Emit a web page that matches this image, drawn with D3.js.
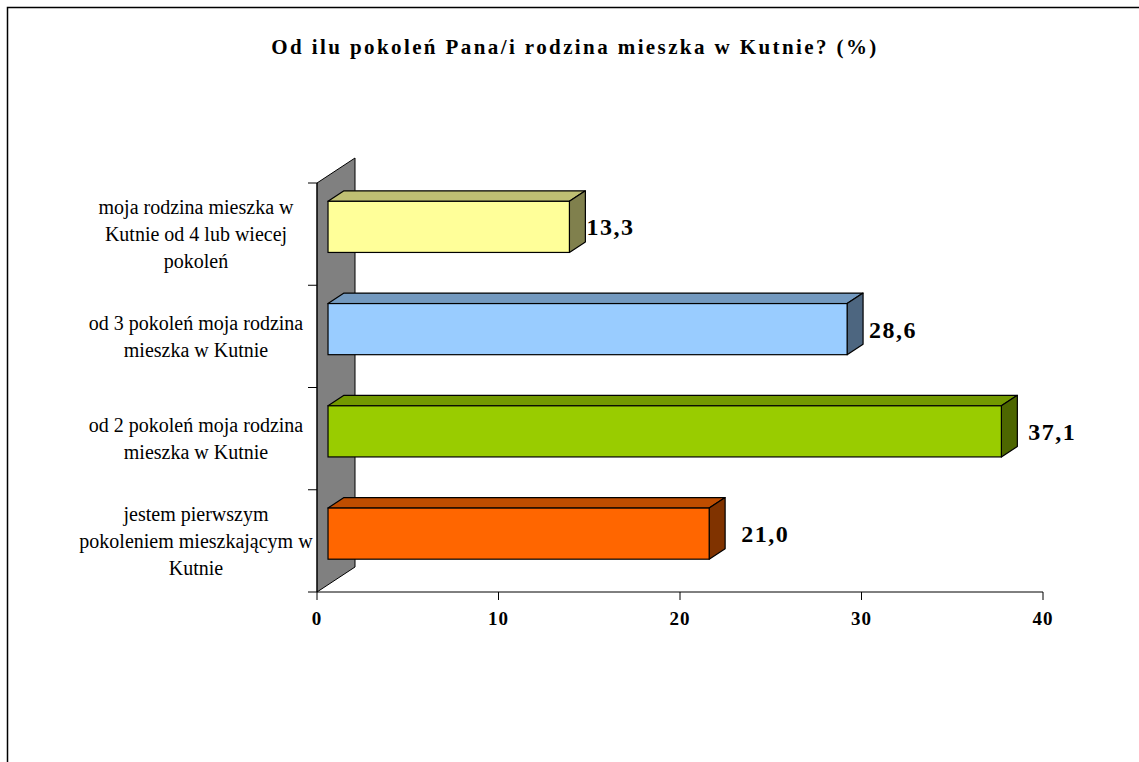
<!DOCTYPE html>
<html>
<head>
<meta charset="utf-8">
<script src="https://cdn.jsdelivr.net/npm/d3@7/dist/d3.min.js"></script>
<style>
  body { margin: 0; background: #fff; }
  svg { display: block; }
  text { font-family: "Liberation Serif", "Times New Roman", serif; fill: #000; }
</style>
</head>
<body>
<div id="chart"></div>
<script>
const WIDTH = 1139
const HEIGHT = 762

const title = 'Od ilu pokoleń Pana/i rodzina mieszka w Kutnie? (%)'
// top to bottom, as drawn
const categories = [
  ['moja rodzina mieszka w', 'Kutnie od 4 lub wiecej', 'pokoleń'],
  ['od 3 pokoleń moja rodzina', 'mieszka w Kutnie'],
  ['od 2 pokoleń moja rodzina', 'mieszka w Kutnie'],
  ['jestem pierwszym', 'pokoleniem mieszkającym w', 'Kutnie']
]
const values = [13.3, 28.6, 37.1, 21.0]
const colors = ['#ffff99', '#99ccff', '#99cc00', '#ff6600']
const xTicks = [0, 10, 20, 30, 40]

// plot frame (front plane) and 3d depth
const plot = { left: 317, right: 1043, top: 183, bottom: 592 }
const depth = { dx: 38, dy: -25 }
const barFront = 0.29
const barBack = 0.71

const svg = d3.select('#chart').append('svg')
  .attr('width', WIDTH)
  .attr('height', HEIGHT)

// outer frame, right and bottom edges run off the picture
svg.append('rect')
  .attr('x', 7.5).attr('y', 7.5)
  .attr('width', WIDTH + 20).attr('height', HEIGHT + 20)
  .attr('fill', 'none')
  .attr('stroke', '#000')
  .attr('stroke-width', 1.5)

svg.append('text')
  .attr('x', 575)
  .attr('y', 54)
  .attr('text-anchor', 'middle')
  .attr('font-size', 21)
  .attr('font-weight', 'bold')
  .attr('letter-spacing', 2.4)
  .text(title)

const x = d3.scaleLinear()
  .domain([0, 40])
  .range([plot.left, plot.right])

const y = d3.scaleBand()
  .domain(d3.range(categories.length))
  .range([plot.top, plot.bottom])
  .paddingInner(0.5)
  .paddingOuter(0.25)

const step = y.step()

// back wall
svg.append('polygon')
  .attr('points', [
    [plot.left, plot.bottom],
    [plot.left, plot.top],
    [plot.left + depth.dx, plot.top + depth.dy],
    [plot.left + depth.dx, plot.bottom + depth.dy]
  ].map(p => p.join(',')).join(' '))
  .attr('fill', '#808080')
  .attr('stroke', '#000')
  .attr('stroke-width', 1)

// category axis
svg.append('line')
  .attr('x1', plot.left).attr('x2', plot.left)
  .attr('y1', plot.top).attr('y2', plot.bottom)
  .attr('stroke', '#000')

const catTicks = d3.range(categories.length + 1).map(i => plot.top + i * step)
svg.selectAll('.ctick')
  .data(catTicks)
  .enter().append('line')
  .attr('x1', plot.left - 9).attr('x2', plot.left)
  .attr('y1', d => d).attr('y2', d => d)
  .attr('stroke', '#000')

// value axis
svg.append('line')
  .attr('x1', plot.left).attr('x2', plot.right)
  .attr('y1', plot.bottom).attr('y2', plot.bottom)
  .attr('stroke', '#000')

svg.selectAll('.vtick')
  .data(xTicks)
  .enter().append('line')
  .attr('x1', d => x(d)).attr('x2', d => x(d))
  .attr('y1', plot.bottom).attr('y2', plot.bottom + 8)
  .attr('stroke', '#000')

svg.selectAll('.vlabel')
  .data(xTicks)
  .enter().append('text')
  .attr('x', d => x(d))
  .attr('y', plot.bottom + 33)
  .attr('text-anchor', 'middle')
  .attr('font-size', 19)
  .attr('font-weight', 'bold')
  .attr('letter-spacing', 1)
  .text(d => d)

// category labels
const lineH = 27
svg.selectAll('.clabel')
  .data(categories)
  .enter().append('text')
  .attr('text-anchor', 'middle')
  .attr('font-size', 20)
  .each(function (lines, i) {
    const cy = plot.top + (i + 0.5) * step
    const y0 = cy - (lines.length - 1) * lineH / 2
    d3.select(this).selectAll('tspan')
      .data(lines)
      .enter().append('tspan')
      .attr('x', 196)
      .attr('y', (d, j) => y0 + j * lineH)
      .attr('dy', '0.35em')
      .text(d => d)
  })

function shade (c, k) {
  const r = d3.rgb(c)
  return d3.rgb(r.r * k, r.g * k, r.b * k).formatHex()
}

// bars
const fx = barFront * depth.dx, fy = barFront * depth.dy
const bx = (barBack - barFront) * depth.dx, by = (barBack - barFront) * depth.dy

const bars = svg.selectAll('.bar')
  .data(values)
  .enter().append('g')
  .attr('class', 'bar')

const pts = arr => arr.map(p => p.join(',')).join(' ')

bars.each(function (v, i) {
  const g = d3.select(this)
  const x0 = x(0) + fx, x1 = x(v) + fx
  const y0 = y(i) + fy, y1 = y(i) + y.bandwidth() + fy
  const c = colors[i]
  g.append('polygon')
    .attr('points', pts([[x0, y0], [x0 + bx, y0 + by], [x1 + bx, y0 + by], [x1, y0]]))
    .attr('fill', shade(c, 0.75))
    .attr('stroke', '#000').attr('stroke-width', 1.2).attr('stroke-linejoin', 'round')
  g.append('polygon')
    .attr('points', pts([[x1, y0], [x1 + bx, y0 + by], [x1 + bx, y1 + by], [x1, y1]]))
    .attr('fill', shade(c, 0.5))
    .attr('stroke', '#000').attr('stroke-width', 1.2).attr('stroke-linejoin', 'round')
  g.append('rect')
    .attr('x', x0).attr('y', y0)
    .attr('width', x1 - x0).attr('height', y1 - y0)
    .attr('fill', c)
    .attr('stroke', '#000').attr('stroke-width', 1.2)

  g.append('text')
    .attr('x', x(v) + 52 + 5 * i)
    .attr('y', (y0 + y1) / 2)
    .attr('dy', '0.35em')
    .attr('text-anchor', 'middle')
    .attr('font-size', 24)
    .attr('font-weight', 'bold')
    .attr('letter-spacing', 1.5)
    .text(d3.format('.1f')(v).replace('.', ','))
})
</script>
</body>
</html>
